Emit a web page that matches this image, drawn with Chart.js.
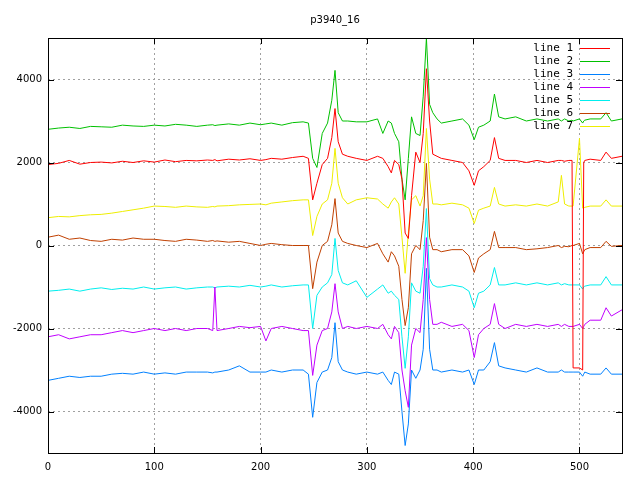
<!DOCTYPE html>
<html><head><meta charset="utf-8">
<script src="https://cdn.jsdelivr.net/npm/chart.js@4/dist/chart.umd.min.js"></script>
<style>html,body{margin:0;padding:0;background:#fff}#w{width:640px;height:480px}</style>
</head><body><div id="w"><canvas id="c" width="640" height="480"></canvas></div>
<script>
const xs=[0,10,20,30,40,50,60,70,80,90,100,110,120,130,140,150,155,157,159,170,180,190,200,205,210,220,230,240,
245,249,253,258,263,267,270,273,277,282,290,300,310,315,320,323,326,330,
333,336,339,342,346,350,353,356,359,362,366,370,380,390,396,
401,405,410,416,420,424,430,440,450,460,470,480,483,486,490,493,494,500,503,504,505,510,520,525,530,540];
const line1=[1950,1980,2050,1960,2000,2010,1990,2030,2000,2040,2010,2060,2020,2050,2040,2060,2050,2070,2040,2080,2060,2090,2050,2070,2100,2080,2120,2150,
2100,1100,1500,1950,2100,2600,3300,2500,2200,2150,2100,2050,2150,2100,1900,1750,2050,1950,
1600,300,170,1200,2250,2000,2700,4260,3000,2200,2150,2100,2050,2000,1800,
1450,1800,1900,2050,2600,2100,2050,2050,2000,2050,2000,2050,2050,2030,2050,2050,-2950,-2950,-3000,2000,2050,2080,2050,2250,2100,2150];
const line2=[2800,2830,2850,2820,2870,2860,2850,2900,2880,2870,2900,2880,2920,2900,2870,2900,2910,2890,2900,2930,2900,2950,2910,2930,2950,2900,2960,2980,
2950,2100,1880,2700,2950,3500,4220,3200,3000,3000,2980,2980,3050,2700,3000,2950,2700,2500,
1600,1100,2100,3100,2700,2650,3600,5000,3400,3200,3050,2950,3000,3050,2900,
2550,2850,2900,3000,3650,3100,3050,3100,3000,3050,3000,3050,3000,3050,3000,3020,3000,3050,2950,3000,3020,3050,3050,3200,3000,3050];
const line3=[-3250,-3200,-3150,-3180,-3150,-3150,-3100,-3080,-3100,-3050,-3100,-3070,-3100,-3050,-3050,-3050,-3070,-3050,-3050,-3000,-2900,-3050,-3050,-3050,-3000,-3050,-3000,-3000,
-3100,-4140,-3300,-3050,-3000,-2700,-1860,-2800,-3000,-3050,-3100,-3050,-3100,-3050,-3250,-3350,-3050,-3100,
-4000,-4820,-4300,-3000,-3200,-3000,-2500,-550,-2500,-3000,-3000,-3050,-3000,-3050,-3000,
-3350,-3000,-3000,-2800,-2340,-2900,-2950,-3000,-3050,-2950,-3050,-3050,-3000,-3050,-3050,-3050,-3050,-3050,-3150,-3100,-3050,-3100,-3100,-2950,-3100,-3100];
const line4=[-2200,-2150,-2250,-2200,-2150,-2150,-2100,-2050,-2100,-2050,-2000,-2050,-2000,-2050,-2000,-2000,-2050,-1000,-2050,-2000,-1950,-1980,-1950,-2300,-2000,-1950,-2000,-2050,
-2050,-3130,-2400,-2050,-2000,-1600,-920,-1600,-2000,-1950,-2000,-1950,-2000,-1900,-2150,-2250,-1950,-2100,
-3000,-3500,-3900,-2400,-2000,-2100,-1300,190,-1300,-1900,-1900,-1850,-1950,-1900,-2050,
-2700,-2150,-2000,-1900,-1400,-1900,-2000,-1900,-1950,-1900,-1950,-1900,-1950,-1900,-1950,-1950,-1950,-1900,-2000,-1950,-1900,-1800,-1800,-1500,-1700,-1550];
const line5=[-1100,-1080,-1050,-1100,-1050,-1020,-1060,-1030,-1050,-1000,-1050,-1020,-1000,-1050,-1020,-1000,-1000,-1020,-1000,-980,-1000,-960,-1000,-980,-950,-1000,-970,-950,
-950,-2000,-1200,-1000,-900,-700,170,-600,-900,-950,-850,-1250,-1050,-950,-1150,-1100,-1200,-1300,
-2200,-2960,-2200,-900,-1100,-1150,-500,890,-800,-950,-1000,-1000,-950,-1000,-1100,
-1500,-1150,-1100,-950,-530,-950,-950,-900,-950,-900,-950,-900,-950,-920,-950,-950,-950,-950,-1050,-1000,-980,-950,-950,-750,-950,-950];
const line6=[200,250,150,180,120,100,150,130,180,150,150,120,100,150,130,100,120,100,110,80,100,50,0,30,50,20,0,0,
0,-1040,-400,0,100,500,1130,300,100,50,0,-50,50,-200,-400,-150,-250,-500,
-1300,-1930,-1500,-200,0,-100,600,1980,200,-100,-100,-150,-100,-100,-250,
-650,-300,-200,-100,340,-50,-50,-50,-100,-80,-50,0,-50,-20,-30,0,0,50,-200,-150,-100,-50,-50,100,-20,0];
const line7=[670,700,690,720,740,750,780,820,860,900,950,940,920,950,930,920,940,930,950,960,980,990,1000,980,1020,1050,1080,1100,
1100,240,700,1000,1100,1500,2340,1500,1150,1000,1100,1150,1120,1000,900,1050,1150,1000,
200,-670,300,1100,1200,950,1200,2820,1600,1000,1000,980,1020,980,900,
530,850,900,950,1400,1000,950,980,950,1000,950,1050,1690,1000,950,950,950,2580,900,900,920,950,950,1100,950,950];
const seriesNames=['line 1','line 2','line 3','line 4','line 5','line 6','line 7'];
const seriesData=[line1,line2,line3,line4,line5,line6,line7];
const colors=['#ff0000','#00c000','#0080ff','#c000ff','#00eeee','#c04000','#eeee00'];
const yTicks=[-4000,-2000,0,2000,4000];
const xTicks=[0,100,200,300,400,500];

const datasets=seriesData.map((arr,i)=>({label:seriesNames[i],data:xs.map((x,j)=>({x:x,y:arr[j]})),
  borderColor:colors[i],borderWidth:1,pointRadius:0,fill:false,tension:0}));

const legendPlugin={id:'lg',afterDraw(ch){
  const c=ch.ctx;c.save();
  const a=ch.chartArea;
  c.strokeStyle='#000';c.lineWidth=1;c.strokeRect(Math.round(a.left)+0.5,Math.round(a.top)+0.5,Math.round(a.right-a.left),Math.round(a.bottom-a.top));
  c.beginPath();
  const sx=ch.scales.x, sy=ch.scales.y;
  xTicks.forEach(v=>{const p=Math.round(sx.getPixelForValue(v))+0.5;c.moveTo(p,a.bottom);c.lineTo(p,a.bottom-6);c.moveTo(p,a.top);c.lineTo(p,a.top+6);});
  yTicks.forEach(v=>{const p=Math.round(sy.getPixelForValue(v))+0.5;c.moveTo(a.left,p);c.lineTo(a.left+6,p);c.moveTo(a.right,p);c.lineTo(a.right-6,p);});
  c.stroke();
  c.font='11px "DejaVu Sans Mono", monospace';c.textAlign='right';c.textBaseline='middle';
  for(let i=0;i<seriesNames.length;i++){const y=48+i*13;c.fillStyle='#000';c.fillText(seriesNames[i],573,y);
    c.fillStyle=colors[i];c.fillRect(580,y,30,1);}
  c.restore();}};
const titlePlugin={id:'tt',afterDraw(ch){const c=ch.ctx;c.save();c.font='10px "DejaVu Sans", sans-serif';c.fillStyle='#000';c.textAlign='center';c.textBaseline='middle';c.fillText('p3940_16',335,20);c.restore();}};

new Chart(document.getElementById('c'),{type:'line',data:{datasets},
 options:{responsive:false,animation:false,events:[],
  layout:{padding:{left:0,right:18,top:38,bottom:0}},
  plugins:{legend:{display:false},tooltip:{enabled:false}},
  scales:{
   x:{type:'linear',min:0,max:540,afterBuildTicks:a=>{a.ticks=xTicks.map(v=>({value:v}));},
      grid:{color:'#a0a0a0',drawTicks:false},border:{color:'#a0a0a0',dash:[2,3],display:false},
      ticks:{color:'#000',font:{size:10,family:'DejaVu Sans'},maxRotation:0,padding:8,callback:v=>String(v)},afterFit:a=>{a.height=27;}},
   y:{min:-5000,max:5000,afterBuildTicks:a=>{a.ticks=yTicks.map(v=>({value:v}));},
      grid:{color:'#a0a0a0',drawTicks:false},border:{color:'#a0a0a0',dash:[2,3],display:false},
      ticks:{color:'#000',font:{size:10,family:'DejaVu Sans'},padding:6,callback:v=>String(v)},afterFit:a=>{a.width=48;}}
  }}, plugins:[legendPlugin,titlePlugin]});
</script></body></html>
